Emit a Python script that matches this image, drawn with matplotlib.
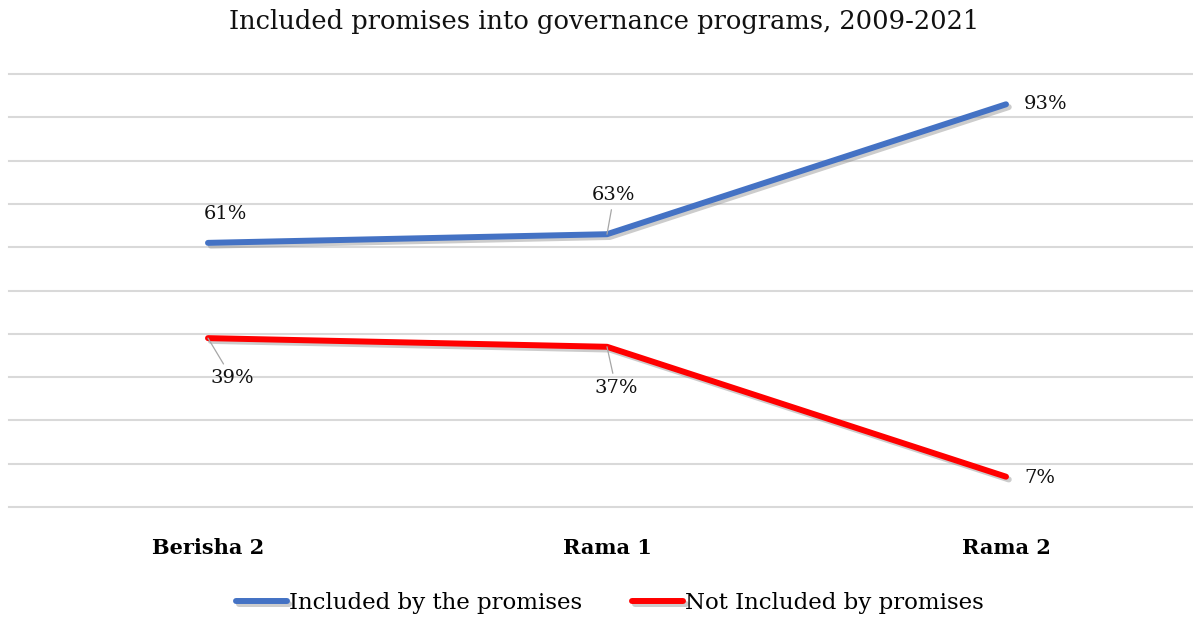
import matplotlib
matplotlib.use('Agg')
import matplotlib.pyplot as plt
import matplotlib.patheffects as pe

plt.rcParams['font.family'] = ['DejaVu Serif']

# Data
periods = ['Berisha 2', 'Rama 1', 'Rama 2']
included = [61, 63, 93]
not_included = [39, 37, 7]

# label offsets in pixels (x, y) relative to the point, and whether a leader line is drawn
inc_offsets = [(17, 29, False), (7, 39, True), (40, 0, False)]
not_offsets = [(24, -40, True), (9, -41, True), (34, -1, False)]

fig = plt.figure(figsize=(11.93, 6.18), dpi=100)
ax = fig.add_axes([8.5 / 1193, 111 / 618, 1197 / 1193, 433 / 618])

x = range(len(periods))
shadow = [pe.SimpleLineShadow(offset=(2, -2), alpha=0.4, shadow_color='gray'), pe.Normal()]
ax.plot(x, included, color='#4472C4', lw=4.3, solid_capstyle='round',
        label='Included by the promises', path_effects=shadow, zorder=3)
ax.plot(x, not_included, color='#FF0000', lw=4.3, solid_capstyle='round',
        label='Not Included by promises', path_effects=shadow, zorder=3)

for series, offsets in [(included, inc_offsets), (not_included, not_offsets)]:
    for i, v in enumerate(series):
        dx, dy, leader = offsets[i]
        arrow = dict(arrowstyle='-', color='#A6A6A6', lw=0.9, shrinkA=2, shrinkB=0) if leader else None
        ax.annotate(f'{v}%', xy=(i, v), xytext=(dx, dy), textcoords='offset pixels',
                    ha='center', va='center', fontsize=14, color='#111111',
                    arrowprops=arrow, zorder=4)

ax.set_xlim(-0.5, 2.5)
ax.set_ylim(0, 100)
ax.set_yticks(range(0, 101, 10))
ax.yaxis.grid(True, color='#D9D9D9', lw=1.5)
for gl in ax.get_ygridlines():
    gl.set_clip_on(False)
ax.set_axisbelow(True)
ax.tick_params(axis='y', left=False, labelleft=False)
ax.tick_params(axis='x', length=0, pad=22)
ax.set_xticks(list(x))
ax.set_xticklabels(periods, fontsize=15, fontweight='bold')
for s in ax.spines.values():
    s.set_visible(False)

fig.text(604 / 1193, 1 - 22 / 618, 'Included promises into governance programs, 2009-2021',
         ha='center', va='center', fontsize=18.5, color='#111111')

fig.legend(loc='center', bbox_to_anchor=(610 / 1193, 1 - 603 / 618), ncol=2, frameon=False,
           fontsize=16.5, handlelength=2.2, handletextpad=0.1, columnspacing=2.2)

fig.savefig('out.png', dpi=100)
